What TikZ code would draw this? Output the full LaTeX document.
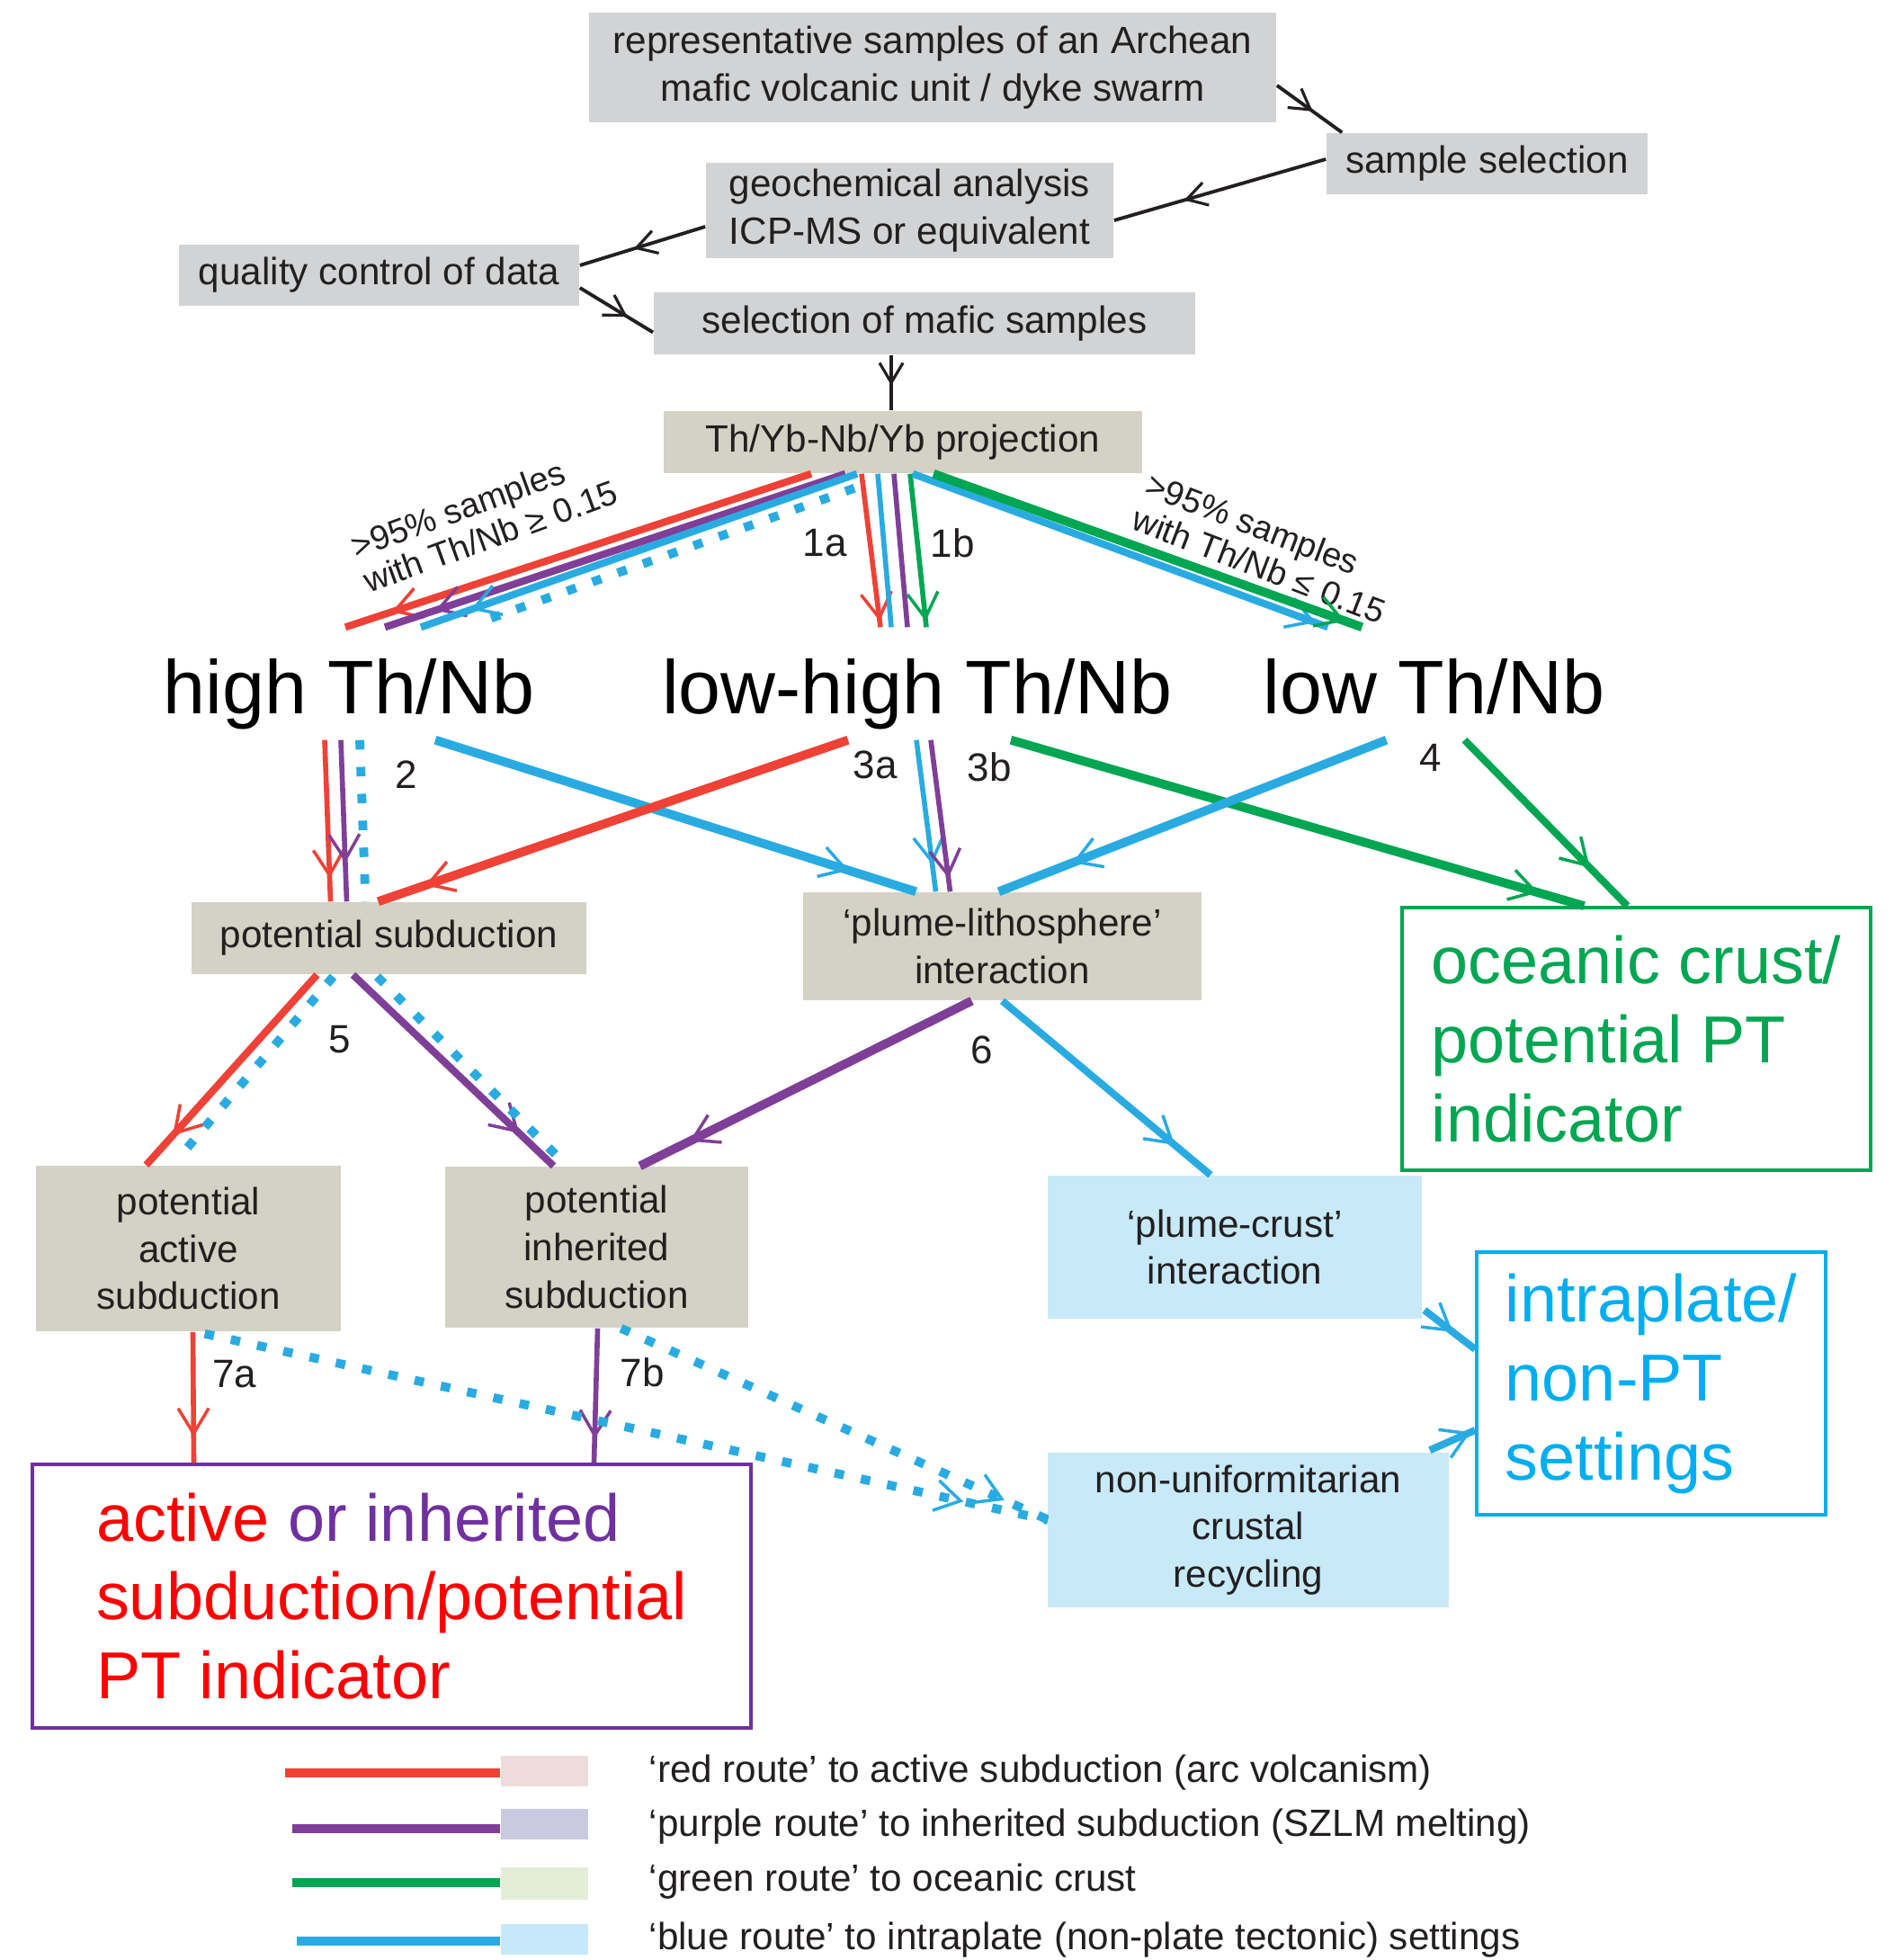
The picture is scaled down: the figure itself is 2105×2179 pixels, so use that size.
\documentclass[tikz,border=0pt]{standalone}
\usepackage{fontspec}
\setmainfont{Liberation Sans}
\usetikzlibrary{arrows.meta,calc,decorations.markings}

\definecolor{rred}{HTML}{EF4136}
\definecolor{rpurple}{HTML}{7F3F98}
\definecolor{rgreen}{HTML}{00A651}
\definecolor{rblue}{HTML}{29ABE2}
\definecolor{boxgray}{HTML}{D1D3D4}
\definecolor{boxtan}{HTML}{D3D2C4}
\definecolor{boxblue}{HTML}{C7E9F8}
\definecolor{txtdark}{HTML}{231F20}
\definecolor{txtred}{HTML}{FF0000}
\definecolor{txtpurple}{HTML}{7030A0}
\definecolor{txtblue}{HTML}{00AEEF}
\definecolor{swred}{HTML}{EEDCDC}
\definecolor{swpurple}{HTML}{C9CADF}
\definecolor{swgreen}{HTML}{E3EDD7}
\definecolor{swblue}{HTML}{C7E8F8}

\newcommand\txtbox{\fontsize{12}{15}\selectfont}
\newcommand\txtbig{\fontsize{21}{25}\selectfont}
\newcommand\txthead{\fontsize{24}{28}\selectfont}
\newcommand\txtlab{\fontsize{12.5}{15}\selectfont}
\newcommand\txtnote{\fontsize{10.8}{11.6}\selectfont}

\tikzset{
  grey box/.style={fill=boxgray, text=txtdark, font=\txtbox, align=center, inner sep=0pt},
  tan box/.style={grey box, fill=boxtan},
  pale box/.style={grey box, fill=boxblue},
  end box/.style={draw=#1, line width=1pt, text=#1, font=\txtbig, align=left, inner sep=0pt},
  head/.style={font=\txthead, inner sep=0pt, text height=0.95cm, text depth=0.29cm},
  num/.style={font=\txtlab, text=txtdark, inner sep=0pt},
  note/.style={font=\txtnote, text=txtdark, align=left, inner sep=0pt},
  tip at/.style={postaction=decorate, decoration={markings, mark=at position #1 with
    {\pgfsetdash{}{0pt}\arrow{Straight Barb[length=2.8mm,width=3.4mm,line width=1pt]}}}},
  ktip at/.style={postaction=decorate, decoration={markings, mark=at position #1 with
    {\arrow{Straight Barb[length=2.2mm,width=2.6mm,line width=0.9pt]}}}},
  w1/.style={line width=1.6pt},
  w2/.style={line width=2.3pt},
  w3/.style={line width=2.8pt},
  dots/.style={rblue, line width=2.8pt, dash pattern=on 3pt off 5.5pt},
}

\begin{document}
\begin{tikzpicture}[x=0.01cm, y=-0.01cm]
  \useasboundingbox (0,0) rectangle (2105,2179);

  % top of the flow
  \node[grey box, minimum width=7.64cm, minimum height=1.22cm] (rep) at (1037,75)
    {representative samples of an Archean\\mafic volcanic unit / dyke swarm};
  \node[grey box, minimum width=3.57cm, minimum height=0.68cm] (sel) at (1653.5,182) {sample selection};
  \node[grey box, minimum width=4.53cm, minimum height=1.06cm] (geo) at (1011.5,234)
    {geochemical analysis\\ICP-MS or equivalent};
  \node[grey box, minimum width=4.45cm, minimum height=0.68cm] (qual) at (421.5,306) {quality control of data};
  \node[grey box, minimum width=6.02cm, minimum height=0.69cm] (maf) at (1028,359.5) {selection of mafic samples};
  \node[tan box, minimum width=5.32cm, minimum height=0.69cm] (proj) at (1004,491.5) {Th/Yb-Nb/Yb projection};

  \draw[txtdark, line width=1.1pt, ktip at=0.55] ($(rep.east)+(0,20)$) -- ($(sel.north west)+(18,0)$);
  \draw[txtdark, line width=1.1pt, ktip at=0.67] ($(sel.west)+(0,-5)$) -- ($(geo.east)+(0,11)$);
  \draw[txtdark, line width=1.1pt, ktip at=0.57] ($(geo.west)+(0,18)$) -- ($(qual.east)+(0,-11)$);
  \draw[txtdark, line width=1.1pt, ktip at=0.65] ($(qual.east)+(0,14)$) -- ($(maf.west)+(0,10)$);
  \draw[txtdark, line width=1.1pt, ktip at=0.55] ($(maf.south)+(-37,0)$) -- ($(proj.north)+(-13,0)$);

  % Th/Nb groups
  \node[head, anchor=base] (hi) at (388,793) {high Th/Nb};
  \node[head, anchor=base] (lohi) at (1020,793) {low-high Th/Nb};
  \node[head, anchor=base] (lo) at (1594.5,793) {low Th/Nb};

  \node[note, rotate=20, anchor=west] (notehi) at (398,628) {>95\% samples\\with Th/Nb ≥ 0.15};
  \node[note, rotate=-21, anchor=west] (notelo) at (1268,556) {>95\% samples\\with Th/Nb ≤ 0.15};

  \draw[dots] ($(proj.south)+(-54,16)$) -- ($(hi.north)+(147,-6)$);
  \draw[rred, w2, tip at=0.9] ($(proj.south)+(-102,0)$) -- ($(hi.north)+(-4,0)$);
  \draw[rpurple, w2, tip at=0.89] ($(proj.south)+(-64,0)$) -- ($(hi.north)+(40,0)$);
  \draw[rblue, w2, tip at=0.885] ($(proj.south)+(-51,0)$) -- ($(hi.north)+(80,0)$);

  \draw[rred, w1, tip at=0.96] ($(proj.south)+(-46,0)$) -- ($(lohi.north)+(-41,0)$);
  \draw[rblue, w1] ($(proj.south)+(-28,0)$) -- ($(lohi.north)+(-29,0)$);
  \draw[rpurple, w1] ($(proj.south)+(-10,0)$) -- ($(lohi.north)+(-11,0)$);
  \draw[rgreen, w1, tip at=0.96] ($(proj.south)+(8,0)$) -- ($(lohi.north)+(10,0)$);

  \draw[rblue, w2, tip at=0.97] ($(proj.south)+(11,0)$) -- ($(lo.north)+(-118,0)$);
  \draw[rgreen, w3, tip at=0.96] ($(proj.south)+(34,0)$) -- ($(lo.north)+(-80,0)$);

  \node[num] (n1a) at (917,604) {1a};
  \node[num] (n1b) at (1059,604) {1b};

  % middle boxes
  \node[tan box, minimum width=4.39cm, minimum height=0.80cm] (psub) at (432.5,1043) {potential subduction};
  \node[tan box, minimum width=4.43cm, minimum height=1.20cm] (plith) at (1114.5,1052)
    {‘plume-lithosphere’\\interaction};
  \node[end box=rgreen, minimum width=5.21cm, minimum height=2.92cm] (ocean) at (1819.5,1155)
    {oceanic crust/\\potential PT\\indicator};

  \draw[rred, w1, tip at=0.855] ($(hi.south)+(-27,0)$) -- ($(psub.north)+(-65,0)$);
  \draw[rpurple, w1, tip at=0.76] ($(hi.south)+(-9,0)$) -- ($(psub.north)+(-47,0)$);
  \draw[dots] ($(hi.south)+(12,0)$) -- ($(psub.north)+(-26,0)$);
  \draw[rblue, w3, tip at=0.86] ($(hi.south)+(96,0)$) -- ($(plith.north)+(-96,0)$);
  \draw[rred, w3, tip at=0.9] ($(lohi.south)+(-77,0)$) -- ($(psub.north)+(-12,0)$);
  \draw[rblue, w1, tip at=0.82] ($(lohi.south)+(-1,0)$) -- ($(plith.north)+(-74,0)$);
  \draw[rpurple, w1, tip at=0.91] ($(lohi.south)+(15,0)$) -- ($(plith.north)+(-58,0)$);
  \draw[rgreen, w3, tip at=0.92] ($(lohi.south)+(104,0)$) -- ($(ocean.north)+(-58,0)$);
  \draw[rblue, w3, tip at=0.81] ($(lo.south)+(-53,0)$) -- ($(plith.north)+(-4,0)$);
  \draw[rgreen, w2, tip at=0.77] ($(lo.south)+(34,0)$) -- ($(ocean.north)+(-10,0)$);

  \node[num] (n2) at (452,861) {2};
  \node[num] (n3a) at (973,850) {3a};
  \node[num] (n3b) at (1100,853) {3b};
  \node[num] (n4) at (1591,842) {4};

  % lower boxes
  \node[tan box, minimum width=3.39cm, minimum height=1.84cm] (pact) at (209.5,1388)
    {potential\\active\\subduction};
  \node[tan box, minimum width=3.37cm, minimum height=1.79cm] (pinh) at (663.5,1386.5)
    {potential\\inherited\\subduction};
  \node[pale box, minimum width=4.16cm, minimum height=1.59cm] (pcru) at (1373,1386.5)
    {‘plume-crust’\\interaction};
  \node[end box=txtblue, minimum width=3.88cm, minimum height=2.92cm] (intra) at (1836,1538)
    {intraplate/\\non-PT\\settings};
  \node[pale box, minimum width=4.46cm, minimum height=1.72cm] (nonu) at (1388,1701)
    {non-uniformitarian\\crustal\\recycling};
  \node[end box=txtpurple, text=txtred, minimum width=7.99cm, minimum height=2.93cm] (subd) at (435.5,1774.5)
    {active {\color{txtpurple}or inherited}\\subduction/potential\\PT indicator};

  \draw[rred, w2, tip at=0.845] ($(psub.south)+(-80,0)$) -- ($(pact.north)+(-47,0)$);
  \draw[dots] ($(psub.south)+(-62,2)$) -- ($(pact.north)+(-4,-16)$);
  \draw[rpurple, w2, tip at=0.83] ($(psub.south)+(-40,0)$) -- ($(pinh.north)+(-48,0)$);
  \draw[dots] ($(psub.south)+(-13,2)$) -- ($(pinh.north)+(-33,0)$);
  \draw[rpurple, w3, tip at=0.85] ($(plith.south)+(-34,0)$) -- ($(pinh.north)+(48,0)$);
  \draw[rblue, w2, tip at=0.83] (plith.south) -- ($(pcru.north)+(-27,0)$);

  \draw[rred, w1, tip at=0.8] ($(pact.south)+(5,0)$) -- ($(subd.north)+(-220,0)$);
  \draw[rpurple, w1, tip at=0.82] ($(pinh.south)+(1,0)$) -- ($(subd.north)+(225,0)$);
  \draw[dots, tip at=0.9] ($(pact.south)+(18,2)$) -- ($(nonu.west)+(1,-11)$);
  \draw[dots, tip at=0.9] ($(pinh.south)+(27,0)$) -- ($(nonu.west)+(0,-12)$);
  \draw[rblue, w2, tip at=0.56] ($(pcru.east)+(2,70)$) -- ($(intra.west)+(0,-38)$);
  \draw[rblue, w2, tip at=0.9] ($(nonu.north east)+(-22,-2)$) -- ($(intra.west)+(0,52)$);

  \node[num] (n5) at (378,1156) {5};
  \node[num] (n6) at (1092,1167) {6};
  \node[num] (n7a) at (261,1528) {7a};
  \node[num] (n7b) at (714,1526) {7b};

  % legend
  \node[fill=swred, minimum width=0.97cm, minimum height=0.34cm, inner sep=0pt] (swr) at (605.5,1969) {};
  \node[fill=swpurple, minimum width=0.97cm, minimum height=0.34cm, inner sep=0pt] (swp) at (605.5,2028) {};
  \node[fill=swgreen, minimum width=0.97cm, minimum height=0.36cm, inner sep=0pt] (swg) at (605.5,2094) {};
  \node[fill=swblue, minimum width=0.97cm, minimum height=0.34cm, inner sep=0pt] (swb) at (605.5,2156) {};
  \coordinate (lr) at (317,1971);
  \coordinate (lp) at (325,2033);
  \coordinate (lg) at (325,2093);
  \coordinate (lb) at (330,2158);
  \draw[rred, line width=2.8pt] (lr) -- (lr -| swr.west);
  \draw[rpurple, line width=2.8pt] (lp) -- (lp -| swp.west);
  \draw[rgreen, line width=2.8pt] (lg) -- (lg -| swg.west);
  \draw[rblue, line width=2.8pt] (lb) -- (lb -| swb.west);
  \node[anchor=base west, font=\txtbox, text=txtdark, inner sep=0pt] (legr) at (721,1981)
    {‘red route’ to active subduction (arc volcanism)};
  \node[anchor=base west, font=\txtbox, text=txtdark, inner sep=0pt] (legp) at (721,2041)
    {‘purple route’ to inherited subduction (SZLM melting)};
  \node[anchor=base west, font=\txtbox, text=txtdark, inner sep=0pt] (legg) at (721,2102)
    {‘green route’ to oceanic crust};
  \node[anchor=base west, font=\txtbox, text=txtdark, inner sep=0pt] (legb) at (721,2167)
    {‘blue route’ to intraplate (non-plate tectonic) settings};
\end{tikzpicture}
\end{document}
